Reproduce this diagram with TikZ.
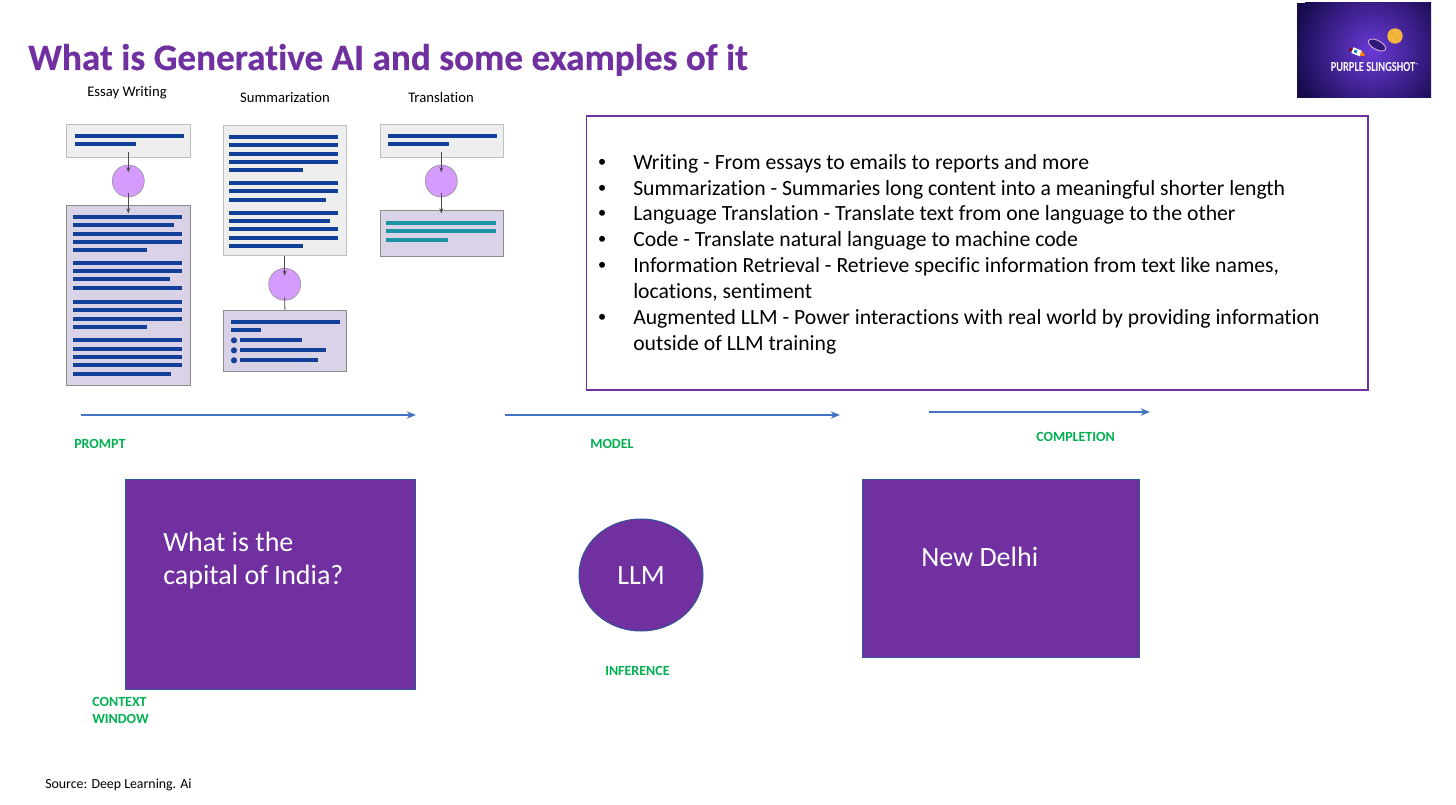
\documentclass[tikz,border=0pt]{standalone}
\usepackage{fontspec}
\setmainfont[Ligatures=NoCommon]{Carlito}
\newfontfamily\titlefont[Ligatures=NoCommon,FakeBold=0.45]{Carlito Bold}
\newfontfamily\bulletfont{Liberation Sans}
\usetikzlibrary{fit,shapes.geometric,arrows.meta}
\definecolor{pur}{HTML}{7030A0}
\definecolor{barblue}{HTML}{123F98}
\definecolor{barteal}{HTML}{1A93A5}
\definecolor{inbox}{HTML}{EEEEEE}
\definecolor{outbox}{HTML}{DAD3E8}
\definecolor{lilac}{HTML}{D59BFF}
\definecolor{arrowblue}{HTML}{4472C4}
\definecolor{edgeblue}{HTML}{2F5597}
\definecolor{labgreen}{HTML}{00B050}
\definecolor{logoin}{HTML}{6A3AD8}
\definecolor{logoout}{HTML}{160A4C}
\definecolor{moon}{HTML}{F2B63C}
\newcommand{\fs}[1]{\fontsize{#1}{#1}\selectfont}
\tikzset{
 x=0.75pt,y=-0.75pt,
 docin/.style={inner sep=0pt,fill=inbox,draw=black!25,line width=0.7pt},
 docout/.style={inner sep=0pt,fill=outbox,draw=black!45,line width=0.7pt},
 proc/.style={circle,inner sep=0pt,minimum size=24pt,fill=lilac,draw=black!45,line width=0.4pt},
 flow/.style={draw=black!70,line width=0.7pt,-{Stealth[length=4pt,width=3pt]}},
 plainflow/.style={draw=black!70,line width=0.7pt},
 bar/.style={draw=barblue,line width=2.8pt},
 tealbar/.style={draw=barteal,line width=2.8pt},
 head/.style={font=\fs{11},text=black,inner sep=0pt},
 para/.style={anchor=base west,inner sep=0pt,font=\fs{16.27},text=black},
 lab/.style={anchor=base west,inner sep=0pt,font=\fs{10.5}\bfseries,text=labgreen},
 timeline/.style={draw=arrowblue,line width=1pt,-{Stealth[length=7pt,width=5.5pt]}},
 block/.style={inner sep=0pt,fill=pur,draw=edgeblue,line width=0.75pt},
 blocktext/.style={anchor=base west,inner sep=0pt,font=\fs{21},text=white},
}
\begin{document}
\begin{tikzpicture}
\useasboundingbox (0,0) rectangle (1456,805);
\node[anchor=base west,inner sep=0pt,font=\titlefont\fs{27.9},text=pur] (title) at (28,70) {What is Generative AI and some examples of it};

% logo
\begin{scope}
\clip (1297,3) rectangle (1431,98);
\fill[logoout] (1297,3) rectangle (1431,98);
\shade[inner color=logoin,outer color=logoout] (1372,50) circle (82*0.75pt);
\end{scope}
\fill[moon] (1395,36) circle (5.8pt);
\fill[moon!75!brown] (1392,33) circle (1pt) (1397,38) circle (0.9pt);
\draw[white!65!violet,line width=0.7pt,fill=logoout!70!logoin,rotate around={-28:(1377,45)}] (1377,45) ellipse (9.5 and 4.5);
% rocket
\begin{scope}[rotate around={-22:(1357,52)}]
\fill[red!60!black] (1349,49.5) -- (1353,52) -- (1349,54.5) -- cycle;
\fill[white] (1352,49) rectangle (1361,55);
\fill[cyan!60!blue] (1354,50.5) rectangle (1357,53.5);
\fill[orange] (1361,49) -- (1366,52) -- (1361,55) -- cycle;
\end{scope}
\node[inner sep=0pt,font=\fs{10.4}\bfseries,text=white] (logotext) at (1374.5,67) {\scalebox{0.75}[1]{PURPLE SLINGSHOT}\raisebox{3.5pt}{\fs{3}™}};

% column heads
\node[head] (h1) at (127,93) {Essay Writing};
\node[head] (h2) at (285,98) {Summarization};
\node[head] (h3) at (441,97) {Translation};

% Essay
\node[docin,fit={(66.7,124.3)(190,157.3)}] (e1) {};
\node[docout,fit={(66.7,205.5)(190,385)}] (e2) {};
\node[proc] (ec) at (128.3,181) {};
\coordinate (ea) at (128.3,152); \coordinate (eb) at (128.3,172.5);
\coordinate (ef) at (128.3,193); \coordinate (eg) at (128.3,213.5);
\draw[flow] (ea) -- (eb);
\draw[flow] (ef) -- (eg);
\foreach \y/\e in {168/402,193/259} \draw[bar] ({50+74/3},{80+\y/3}) -- ({50+\e/3},{80+\y/3});
\foreach \y/\e in {411/396,436/371,461/396,486/396,511/291,548/396,573/396,598/360,625/396,665/396,690/396,717/396,741/291,781/396,806/396,831/396,856/396,881/362}
  \draw[bar] ({50+68/3},{80+\y/3}) -- ({50+\e/3},{80+\y/3});

% Summarization
\node[docin,fit={(223.3,125)(346.3,255.7)}] (s1) {};
\node[docout,fit={(223.3,310)(346.3,371.7)}] (s2) {};
\node[proc] (sc) at (284.7,284.3) {};
\coordinate (sa) at (284.7,255.7); \coordinate (sb) at (284.7,275.7);
\coordinate (sf) at (284.7,297.3);
\draw[flow] (sa) -- (sb);
\draw[plainflow] (sf) -- (s2.north);
\foreach \y/\e in {171/385,196/385,221/385,246/385,270/280,308/385,333/385,359/349,398/385,423/360,448/385,473/385,498/280}
  \draw[bar] ({210+57/3},{80+\y/3}) -- ({210+\e/3},{80+\y/3});
\foreach \y/\e in {726/391,751/152} \draw[bar] ({210+63/3},{80+\y/3}) -- ({210+\e/3},{80+\y/3});
\foreach \y/\e in {781/276,811/348,841/323} {
  \draw[bar] ({210+91/3},{80+\y/3}) -- ({210+\e/3},{80+\y/3});
  \fill[barblue] ({210+72/3},{80+\y/3}) circle (2.3pt);
}

% Translation
\node[docin,fit={(380.3,124.3)(503.3,157.3)}] (t1) {};
\node[docout,fit={(380.3,210.3)(503.3,256.3)}] (t2) {};
\node[proc] (tc) at (441.3,181) {};
\coordinate (ta) at (441.3,152); \coordinate (tb) at (441.3,172.5);
\coordinate (tf) at (441.3,193); \coordinate (tg) at (441.3,213.5);
\draw[flow] (ta) -- (tb);
\draw[flow] (tf) -- (tg);
\foreach \y/\e in {168/861,193/718} \draw[bar] ({210+533/3},{80+\y/3}) -- ({210+\e/3},{80+\y/3});
\foreach \y/\e in {429/857,454/857,480/715} \draw[tealbar] ({210+529/3},{80+\y/3}) -- ({210+\e/3},{80+\y/3});

% list box
\node[inner sep=0pt,draw=pur,line width=1.1pt,fit={(586.5,116)(1368,390)}] (listbox) {};
\foreach \n/\y in {1/169.5,2/195.5,3/220.5,4/246.5,5/272.5,6/324.5} \node[para] (b\n) at (598,\y) {\bulletfont •};
\node[para] (l1) at (633,169.5) {Writing - From essays to emails to reports and more};
\node[para] (l2) at (633,195.5) {Summarization - Summaries long content into a meaningful shorter length};
\node[para] (l3) at (633,220.5) {Language Translation - Translate text from one language to the other};
\node[para] (l4) at (633,246.5) {Code - Translate natural language to machine code};
\node[para] (l5) at (633,272.5) {Information Retrieval - Retrieve specific information from text like names,};
\node[para] (l6) at (633,298.5) {locations, sentiment};
\node[para] (l7) at (633,324.5) {Augmented LLM - Power interactions with real world by providing information};
\node[para] (l8) at (633,350.5) {outside of LLM training};

% timeline arrows
\coordinate (p0) at (81,415); \coordinate (p1) at (416,415);
\coordinate (m0) at (505,415); \coordinate (m1) at (840,415);
\coordinate (c0) at (929,412); \coordinate (c1) at (1150,412);
\draw[timeline] (p0) -- (p1);
\draw[timeline] (m0) -- (m1);
\draw[timeline] (c0) -- (c1);
\node[lab] (lp) at (74,448.5) {PROMPT};
\node[lab] (lm) at (590,448.5) {MODEL};
\node[lab] (lc) at (1036,441.5) {COMPLETION};
\node[lab] (li) at (605,675.5) {INFERENCE};
\node[lab] (lw1) at (92,706.5) {CONTEXT};
\node[lab] (lw2) at (92,723.5) {WINDOW};

% blocks
\node[block,fit={(125,479)(415,689)}] (prompt) {};
\node[block,ellipse,minimum width=93pt,minimum height=84pt] (llm) at (641,575) {};
\node[block,fit={(862,479)(1139,657)}] (compl) {};
\node[blocktext] (q1) at (163,551) {What is the};
\node[blocktext] (q2) at (163,584) {capital of India?};
\node[blocktext,anchor=center] (llmtext) at (641,576) {LLM};
\node[blocktext] (ans) at (921,566) {New Delhi};

\node[anchor=base west,inner sep=0pt,font=\fs{10.4},text=black] (src) at (45,788) {Source: Deep Learning. Ai};
\end{tikzpicture}
\end{document}
